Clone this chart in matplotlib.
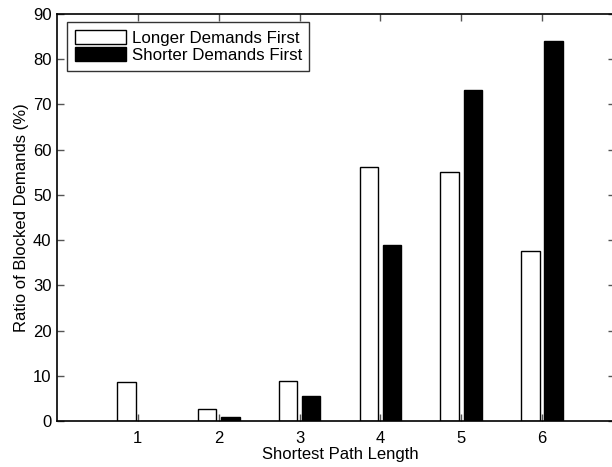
import matplotlib.pyplot as plt
import numpy as np

plt.rcParams["font.family"] = ["Liberation Sans", "DejaVu Sans"]

# blocked-demand ratio (%) per shortest path length
path_lengths = [1, 2, 3, 4, 5, 6]
longer_first = [8.7, 2.7, 8.9, 56.1, 55.0, 37.7]
shorter_first = [0.1, 0.9, 5.6, 38.9, 73.3, 84.0]
series_labels = ["Longer Demands First", "Shorter Demands First"]

fig = plt.figure(figsize=(6.12, 4.67), dpi=100)
# axes runs a little past the right border of the figure
ax = fig.add_axes([57 / 612, 46 / 467, 566 / 612, 407 / 467])

x = np.array(path_lengths, dtype=float)
offset = 0.143
width = 0.229
ax.bar(x - offset, longer_first, width, color="white", edgecolor="black",
       linewidth=1.0, label=series_labels[0], zorder=2)
ax.bar(x + offset, shorter_first, width, color="black", edgecolor="black",
       linewidth=1.0, label=series_labels[1], zorder=2)

ax.set_xlim(0, 7)
ax.set_ylim(0, 90)
ax.set_xticks(path_lengths)
ax.set_yticks(np.arange(0, 91, 10))
ax.tick_params(axis="both", direction="in", length=5, width=1.0,
               color="#555555", labelsize=12, top=True, right=False)
ax.tick_params(axis="x", pad=7)
ax.tick_params(axis="y", pad=4)

# right-hand tick marks, drawn longer so they show inside the figure
sec = ax.secondary_yaxis("right")
sec.set_yticks(np.arange(0, 91, 10))
sec.tick_params(direction="in", length=11, width=1.0, color="#555555",
                labelright=False)

for side in ["left", "bottom", "top", "right"]:
    ax.spines[side].set_linewidth(1.2)
sec.spines["right"].set_linewidth(1.2)

ax.set_xlabel("Shortest Path Length", fontsize=12, labelpad=1)
ax.set_ylabel("Ratio of Blocked Demands (%)", fontsize=12, labelpad=3)

leg = ax.legend(loc="upper left", bbox_to_anchor=(0.018, 0.98), fontsize=12.2,
                frameon=True, fancybox=False, edgecolor="black",
                handlelength=3.0, handleheight=0.9, handletextpad=0.35,
                borderpad=0.45, labelspacing=0.1, borderaxespad=0.0)
leg.get_frame().set_linewidth(1.0)

fig.savefig("out.png", dpi=100)
